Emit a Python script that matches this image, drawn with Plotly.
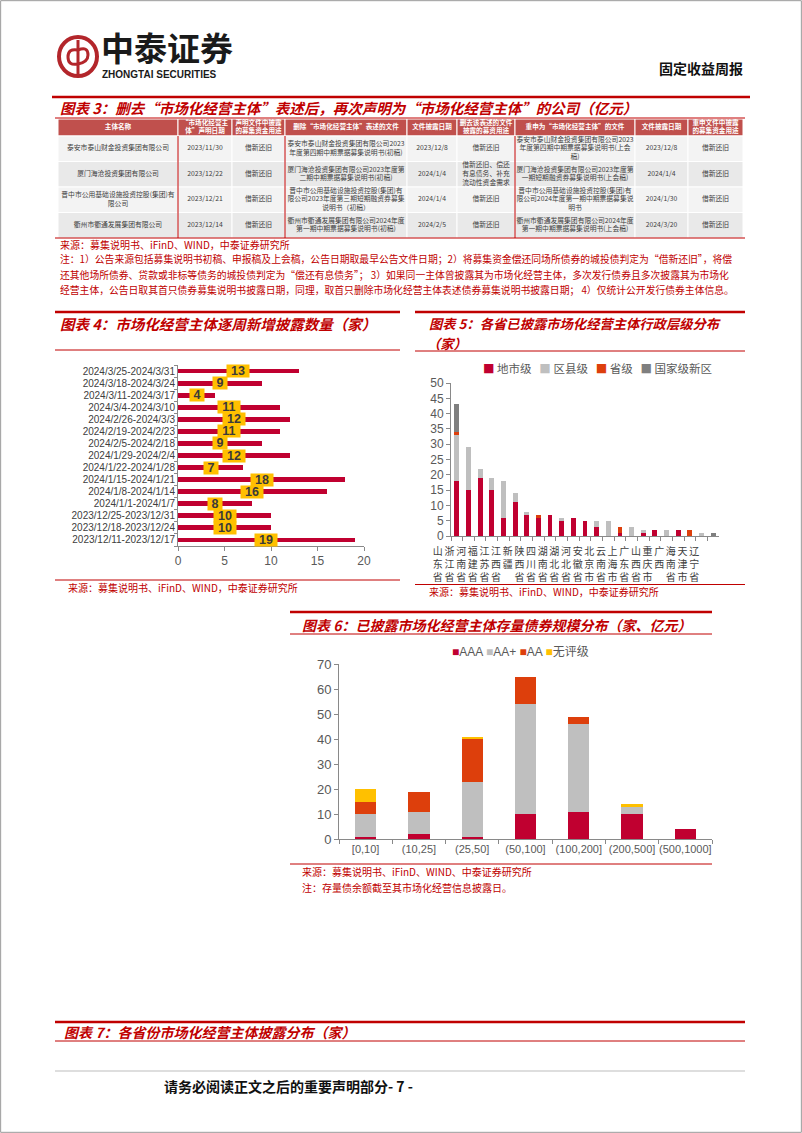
import plotly.graph_objects as go

W, H = 802, 1133
CJK = "Noto Sans CJK SC"
SANS = "Liberation Sans, Noto Sans CJK SC"
RED_TXT = "#C00000"
CRIMSON = "#C00030"
LGRAY = "#BFBFBF"
ORANGE = "#DD3F0C"
DGRAY = "#7F7F7F"
YELLOW = "#FFC000"
AXIS = "#898989"

# ---------------- data ----------------
# 图表3 table
table_headers = ["主体名称", "“市场化经营主<br>体”声明日期", "声明文件中披露<br>的募集资金用途",
                 "删除“市场化经营主体”表述的文件", "文件披露日期", "删去该表述的文件<br>披露的募资用途",
                 "重申为“市场化经营主体”的文件", "文件披露日期", "重申文件中披露<br>的募集资金用途"]
col_entity = ["泰安市泰山财金投资集团有限公司", "厦门海沧投资集团有限公司",
              "晋中市公用基础设施投资控股(集团)有<br>限公司", "衢州市衢通发展集团有限公司"]
col_declare_date = ["2023/11/30", "2023/12/22", "2023/12/21", "2023/12/14"]
col_declare_use = ["借新还旧", "借新还旧", "借新还旧", "借新还旧"]
col_delete_doc = ["泰安市泰山财金投资集团有限公司2023<br>年度第四期中期票据募集说明书(初稿)",
                  "厦门海沧投资集团有限公司2023年度第<br>二期中期票据募集说明书(初稿)",
                  "晋中市公用基础设施投资控股(集团)有<br>限公司2023年度第三期短期融资券募集<br>说明书（初稿）",
                  "衢州市衢通发展集团有限公司2024年度<br>第一期中期票据募集说明书(初稿)"]
col_delete_date = ["2023/12/8", "2024/1/4", "2024/1/4", "2024/2/5"]
col_delete_use = ["借新还旧", "借新还旧、偿还<br>有息债务、补充<br>流动性资金需求", "借新还旧", "借新还旧"]
col_reaffirm_doc = ["泰安市泰山财金投资集团有限公司2023<br>年度第四期中期票据募集说明书(上会<br>稿)",
                    "厦门海沧投资集团有限公司2023年度第<br>一期短期融资券募集说明书(上会稿)",
                    "晋中市公用基础设施投资控股(集团)有<br>限公司2024年度第一期中期票据募集说<br>明书",
                    "衢州市衢通发展集团有限公司2024年度<br>第一期中期票据募集说明书(上会稿)"]
col_reaffirm_date = ["2023/12/8", "2024/1/4", "2024/1/30", "2024/3/20"]
col_reaffirm_use = ["借新还旧", "借新还旧", "借新还旧", "借新还旧"]

# 图表4
weeks = ["2023/12/11-2023/12/17", "2023/12/18-2023/12/24", "2023/12/25-2023/12/31",
         "2024/1/1-2024/1/7", "2024/1/8-2024/1/14", "2024/1/15-2024/1/21",
         "2024/1/22-2024/1/28", "2024/1/29-2024/2/4", "2024/2/5-2024/2/18",
         "2024/2/19-2024/2/23", "2024/2/26-2024/3/3", "2024/3/4-2024/3/10",
         "2024/3/11-2024/3/17", "2024/3/18-2024/3/24", "2024/3/25-2024/3/31"]
new_counts = [19, 10, 10, 8, 16, 18, 7, 12, 9, 11, 12, 11, 4, 9, 13]

# 图表5
provinces = ["山东省", "浙江省", "河南省", "福建省", "江苏省", "江西省", "新疆", "陕西省", "四川省",
             "湖南省", "湖北省", "河北省", "安徽省", "北京市", "云南省", "上海市", "广东省", "山西省",
             "重庆市", "广西", "海南省", "天津市", "辽宁省"]
city_level = [18, 15, 19, 15, 6, 11, 7, 6, 7, 5, 6, 5, 3, 0, 1, 0, 1, 2, 0, 2, 0, 0, 0]
county_level = [15, 14, 3, 4, 12, 3, 1, 0, 0, 1, 0, 0, 2, 5, 0, 3, 1, 0, 2, 0, 0, 1, 0]
province_level = [1, 0, 0, 0, 0, 0, 0, 1, 0, 0, 0, 0, 0, 0, 2, 0, 0, 0, 0, 0, 2, 0, 0]
new_area_level = [9, 0, 0, 0, 0, 0, 0, 0, 0, 0, 0, 0, 0, 0, 0, 0, 0, 0, 0, 0, 0, 0, 1]

# 图表6
buckets = ["[0,10]", "(10,25]", "(25,50]", "(50,100]", "(100,200]", "(200,500]", "(500,1000]"]
rating_aaa = [1, 2, 1, 10, 11, 10, 4]
rating_aa_plus = [9, 9, 22, 44, 35, 3, 0]
rating_aa = [5, 8, 17, 11, 3, 0, 0]
rating_none = [5, 0, 1, 0, 0, 1, 0]


def X(px):
    return px / W


def Y(py):
    return 1 - py / H


fig = go.Figure()
shapes = []
annotations = []


def hline(x0, x1, y, color=RED_TXT, width=1):
    shapes.append(dict(type="line", xref="paper", yref="paper", x0=X(x0), x1=X(x1),
                       y0=Y(y), y1=Y(y), line=dict(color=color, width=width)))


def vline(x, y0, y1, color=RED_TXT, width=1):
    shapes.append(dict(type="line", xref="paper", yref="paper", x0=X(x), x1=X(x),
                       y0=Y(y0), y1=Y(y1), line=dict(color=color, width=width)))


def text(x, y, s, size=10, color=RED_TXT, anchor="left", family=CJK):
    annotations.append(dict(xref="paper", yref="paper", x=X(x), y=Y(y), text=s, showarrow=False,
                            xanchor=anchor, yanchor="middle",
                            font=dict(size=size, color=color, family=family)))


# ---------------- header ----------------
shapes.append(dict(type="rect", xref="paper", yref="paper", x0=0.0008, x1=0.9992, y0=0.0006, y1=0.9994,
                   line=dict(color="#9A9A9A", width=1)))
shapes.append(dict(type="circle", xref="paper", yref="paper", x0=X(59), x1=X(97), y0=Y(76), y1=Y(37),
                   line=dict(color="#B3262B", width=4)))
vline(78, 40, 74, color="#B3262B", width=3)
logo_path = "M {} {} Q {} {} {} {} Q {} {} {} {} Q {} {} {} {} Q {} {} {} {}".format(
    X(78), Y(50), X(68), Y(48), X(68), Y(57), X(68), Y(66), X(78), Y(64),
    X(88), Y(62), X(88), Y(55), X(88), Y(46), X(78), Y(50))
shapes.append(dict(type="path", xref="paper", yref="paper", path=logo_path,
                   line=dict(color="#B3262B", width=3)))
text(99, 47, "<b>中泰证券</b>", size=33, color="#1A1A1A", family=CJK)
text(100, 74, "<b>ZHONGTAI SECURITIES</b>", size=10, color="#1A1A1A",
     family="Liberation Sans Narrow, Liberation Sans")
text(745, 68, "<b>固定收益周报</b>", size=14, color="#111111", anchor="right")
hline(52, 750, 97, width=2.5)

# ---------------- 图表3 ----------------
text(58, 108, "<b><i>图表 3：删去“市场化经营主体”表述后，再次声明为“市场化经营主体”的公司（亿元）</i></b>",
     size=14.5)
hline(55, 745, 118, width=1)

columns = [col_entity, col_declare_date, col_declare_use, col_delete_doc, col_delete_date,
           col_delete_use, col_reaffirm_doc, col_reaffirm_date, col_reaffirm_use]
col_widths = [120, 54, 53, 122, 50, 58, 120, 53, 55]
header_h = 17
row_h = 25.5
row_fill = ["#F3F3F3", "#E9E9E9", "#F3F3F3", "#E9E9E9"]
x_edges = [0]
for w_ in col_widths:
    x_edges.append(x_edges[-1] + w_)
tbl_h = header_h + row_h * len(col_entity)

cell_x, cell_y, cell_t = [], [], []
head_x, head_y = [], []
for ci, col in enumerate(columns):
    xa, xb = x_edges[ci], x_edges[ci + 1]
    shapes.append(dict(type="rect", xref="x4", yref="y4", x0=xa, x1=xb, y0=0, y1=header_h,
                       fillcolor="#C0504D", line=dict(color="white", width=1), layer="below"))
    head_x.append((xa + xb) / 2)
    head_y.append(header_h / 2)
    for ri, val in enumerate(col):
        ya = header_h + ri * row_h
        shapes.append(dict(type="rect", xref="x4", yref="y4", x0=xa, x1=xb, y0=ya, y1=ya + row_h,
                           fillcolor=row_fill[ri], line=dict(color="white", width=1), layer="below"))
        cell_x.append((xa + xb) / 2)
        cell_y.append(ya + row_h / 2)
        cell_t.append(val)

fig.add_trace(go.Scatter(x=head_x, y=head_y, mode="text",
                         text=["<b>%s</b>" % h for h in table_headers],
                         textfont=dict(size=6.6, color="white", family=CJK),
                         xaxis="x4", yaxis="y4", showlegend=False, hoverinfo="skip"))
fig.add_trace(go.Scatter(x=cell_x, y=cell_y, mode="text", text=cell_t,
                         textfont=dict(size=6.8, color="#404040", family=CJK),
                         xaxis="x4", yaxis="y4", showlegend=False, hoverinfo="skip"))
for xb in [178, 285, 515]:
    vline(xb, 136, 238, width=1)
hline(55, 745, 238, width=1)

text(58, 244, "来源：募集说明书、iFinD、WIND，中泰证券研究所", size=10)
text(58, 259, "注：1）公告来源包括募集说明书初稿、申报稿及上会稿，公告日期取最早公告文件日期；2）将募集资金偿还同场所债券的城投债判定为“借新还旧”，将偿", size=9.8)
text(58, 275, "还其他场所债券、贷款或非标等债务的城投债判定为“偿还有息债务”； 3）如果同一主体曾披露其为市场化经营主体，多次发行债券且多次披露其为市场化", size=9.8)
text(58, 290, "经营主体，公告日取其首只债券募集说明书披露日期，同理，取首只删除市场化经营主体表述债券募集说明书披露日期； 4）仅统计公开发行债券主体信息。", size=9.8)

# ---------------- 图表4 ----------------
hline(55, 400, 312, width=2.5)
text(58, 324, "<b><i>图表 4：市场化经营主体逐周新增披露数量（家）</i></b>", size=14.5)
hline(55, 400, 350, width=1)

fig.add_trace(go.Bar(orientation="h", x=new_counts, y=weeks, marker_color=CRIMSON, width=0.4,
                     xaxis="x", yaxis="y", showlegend=False, hoverinfo="x+y"))
for wk, v in zip(weeks, new_counts):
    annotations.append(dict(xref="x", yref="y", x=v / 2, y=wk, text="<b>%d</b>" % v, showarrow=False,
                            bgcolor=YELLOW, borderpad=0, xanchor="center", yanchor="middle",
                            width=14 if v < 10 else 22, height=12,
                            font=dict(size=12.5, color="#3A3A3A", family=SANS)))
hline(55, 400, 580, width=1)
text(66, 587, "来源：募集说明书、iFinD、WIND，中泰证券研究所", size=10)

# ---------------- 图表5 ----------------
hline(415, 745, 312, width=2.5)
text(427, 324, "<b><i>图表 5：各省已披露市场化经营主体行政层级分布</i></b>", size=13.3)
text(425, 343, "<b><i>（家）</i></b>", size=13.3)
hline(415, 745, 351, width=1)

for name, vals, color in [("地市级", city_level, CRIMSON), ("区县级", county_level, LGRAY),
                          ("省级", province_level, ORANGE), ("国家级新区", new_area_level, DGRAY)]:
    fig.add_trace(go.Bar(x=provinces, y=vals, name=name, marker_color=color, width=0.42,
                         xaxis="x2", yaxis="y2", showlegend=False))
leg5 = "   ".join('<span style="color:%s">■</span> %s' % (c, n) for n, c in
                   [("地市级", CRIMSON), ("区县级", LGRAY), ("省级", ORANGE), ("国家级新区", DGRAY)])
text(597, 368, leg5, size=11.5, color="#595959", anchor="center")

hline(415, 745, 584.5, width=1)
text(427, 591, "来源：募集说明书、iFinD、WIND，中泰证券研究所", size=10)

# ---------------- 图表6 ----------------
hline(290, 712, 612, width=2.5)
text(300, 625, "<b><i>图表 6：已披露市场化经营主体存量债券规模分布（家、亿元）</i></b>", size=14)
hline(290, 712, 634, width=1)

for name, vals, color in [("AAA", rating_aaa, CRIMSON), ("AA+", rating_aa_plus, LGRAY),
                          ("AA", rating_aa, ORANGE), ("无评级", rating_none, YELLOW)]:
    fig.add_trace(go.Bar(x=buckets, y=vals, name=name, marker_color=color, width=0.4,
                         xaxis="x3", yaxis="y3", showlegend=False))
leg6 = " ".join('<span style="color:%s">■</span>%s' % (c, n) for n, c in
                [("AAA", CRIMSON), ("AA+", LGRAY), ("AA", ORANGE), ("无评级", YELLOW)])
text(520, 652, leg6, size=12, color="#595959", anchor="center", family=SANS)

hline(290, 712, 864, width=1)
text(300, 871, "来源：募集说明书、iFinD、WIND、中泰证券研究所", size=10)
text(300, 887, "注：存量债余额截至其市场化经营信息披露日。", size=10)

# ---------------- 图表7 & footer ----------------
hline(55, 745, 1022, width=2.5)
text(62, 1032, "<b><i>图表 7：各省份市场化经营主体披露分布（家）</i></b>", size=14)
hline(55, 745, 1041, width=1)
hline(55, 745, 1071, color="#BDBDBD", width=1)
text(162, 1086, "<b>请务必阅读正文之后的重要声明部分- 7 -</b>", size=14, color="#111111")

axis_common = dict(showline=True, linecolor=AXIS, linewidth=1, ticks="outside", tickcolor=AXIS,
                   ticklen=4, showgrid=False, zeroline=False, fixedrange=True, automargin=False,
                   tickangle=0)

fig.update_layout(
    template="none",
    width=W, height=H, margin=dict(l=0, r=0, t=0, b=0, pad=0, autoexpand=False),
    paper_bgcolor="white", plot_bgcolor="white", barmode="stack", bargap=0.6,
    font=dict(family=SANS, color="#404040"),
    showlegend=False,
    xaxis=dict(domain=[X(178), X(364)], range=[0, 20], dtick=5, anchor="y",
               tickfont=dict(size=12, color="#595959"), **axis_common),
    yaxis=dict(domain=[Y(546), Y(365)], type="category", categoryorder="array", categoryarray=weeks,
               range=[-0.5, len(weeks) - 0.5], anchor="x", tickson="boundaries",
               tickmode="array", tickvals=weeks, ticktext=weeks,
               tickfont=dict(size=10, color="#404040"), **{**axis_common, "ticklen": 3}),
    xaxis2=dict(domain=[X(451), X(719)], type="category", categoryorder="array", categoryarray=provinces,
                range=[-0.5, len(provinces) - 0.5], anchor="y2", tickson="boundaries",
                tickmode="array", tickvals=provinces, ticktext=["<br>".join(list(p)) for p in provinces],
                ticklabelshift=-19, ticklabelstandoff=6,
                tickfont=dict(size=10, color="#404040", family=CJK), **axis_common),
    yaxis2=dict(domain=[Y(536), Y(383)], range=[0, 50], dtick=5, anchor="x2",
                tickfont=dict(size=12, color="#595959"), **axis_common),
    xaxis3=dict(domain=[X(339), X(712)], type="category", categoryorder="array", categoryarray=buckets,
                range=[-0.5, len(buckets) - 0.5], anchor="y3", tickson="boundaries",
                tickmode="array", tickvals=buckets, ticktext=buckets,
                tickfont=dict(size=11, color="#595959"), **axis_common),
    yaxis3=dict(domain=[Y(839), Y(664)], range=[0, 70], dtick=10, anchor="x3",
                tickfont=dict(size=13, color="#595959"), **axis_common),
    xaxis4=dict(domain=[X(58), X(743)], range=[0, x_edges[-1]], visible=False, fixedrange=True,
                anchor="y4"),
    yaxis4=dict(domain=[Y(238), Y(119)], range=[tbl_h, 0], visible=False, fixedrange=True,
                anchor="x4"),
    shapes=shapes,
    annotations=annotations,
)

fig.write_html("out.html")
